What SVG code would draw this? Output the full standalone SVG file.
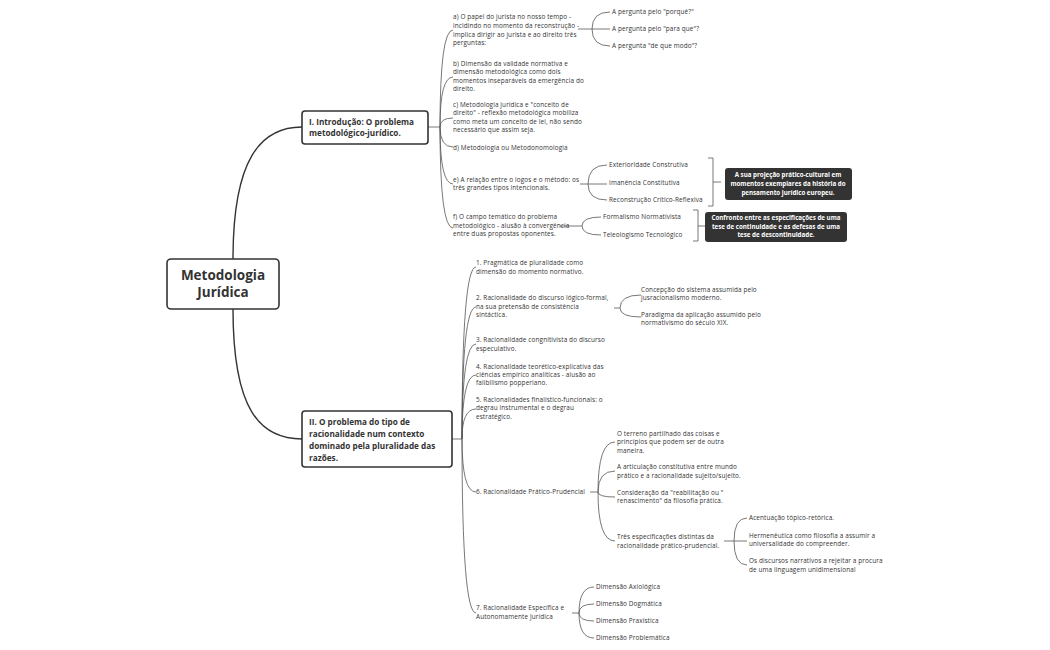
<svg xmlns="http://www.w3.org/2000/svg" width="1050" height="650" viewBox="0 0 1050 650">
<style>
text{font-family:"Open Sans","DejaVu Sans",sans-serif;fill:#333}
.t{font-size:6.4px;letter-spacing:0.12px}
.b{font-weight:bold}
.box{fill:#fff;stroke:#333;stroke-width:1.6}
.dk{fill:#333;stroke:none}
.w{fill:#fff;font-weight:bold;font-size:6.2px;text-anchor:middle}
.c path{fill:none;stroke:#555;stroke-width:0.8}
.c .m{stroke:#333;stroke-width:1.4}
</style>
<rect width="1050" height="650" fill="#fff"/>
<g class="c">
<path class="m" d="M233,259 C233,160 260,127 302,127"/>
<path class="m" d="M233,309 C233,410 260,439 302,439"/>
<path d="M428,127 H440"/>
<path d="M440,127 Q440,30 453,30 M440,127 Q440,77 453,77 M440,127 Q440,118 453,118 M440,127 Q440,147 453,147 M440,127 Q440,184 453,184 M440,127 Q440,228 453,228"/>
<path d="M578,29 H592 M592,29 Q592,12 610,12 M592,29 H610 M592,29 Q592,46 610,46"/>
<path d="M580,184 H588 M588,184 Q588,165 607,165 M588,184 H607 M588,184 Q588,200 607,200"/>
<path d="M708,158 H713 V206 H708 M713,182 H721"/>
<path d="M560,226 H582 M582,226 Q582,217 601,217 M582,226 Q582,235 601,235"/>
<path d="M693,210 H698 V241 H693 M698,226 H705"/>
<path d="M452,439 H462"/>
<path d="M462,439 Q462,267 476,267 M462,439 Q462,307 476,307 M462,439 Q462,344 476,344 M462,439 Q462,375 476,375 M462,439 Q462,409 476,409 M462,439 Q462,492 476,492 M462,439 Q462,613 476,613"/>
<path d="M614,308 H620 M620,308 Q620,295 641,295 M620,308 Q620,317 641,317"/>
<path d="M590,492 H598 M598,492 Q598,442 615,442 M598,492 Q598,471 615,471 M598,492 Q598,497 615,497 M598,492 Q598,541 615,541"/>
<path d="M724,541 H734 M734,541 Q734,518 747,518 M734,541 H747 M734,541 Q734,565 747,565"/>
<path d="M572,613 H579 M579,613 Q579,587 594,587 M579,613 Q579,604 594,604 M579,613 Q579,621 594,621 M579,613 Q579,638 594,638"/>
</g>
<g id="root"><rect class="box" x="167" y="259" width="112" height="50" rx="4"/>
<text class="b" font-size="13.5" text-anchor="middle" x="223" y="280">Metodologia</text>
<text class="b" font-size="13.5" text-anchor="middle" x="223" y="297">Jurídica</text></g>
<g id="n1"><rect class="box" x="302" y="111" width="126" height="33" rx="3"/>
<text class="b" font-size="8.2" x="309" y="125">I. Introdução: O problema</text>
<text class="b" font-size="8.2" x="309" y="136">metodológico-jurídico.</text></g>
<g id="n2"><rect class="box" x="302" y="411" width="150" height="56" rx="3"/>
<text class="b" font-size="8.2" x="309" y="425">II. O problema do tipo de</text>
<text class="b" font-size="8.2" x="309" y="437">racionalidade num contexto</text>
<text class="b" font-size="8.2" x="309" y="449">dominado pela pluralidade das</text>
<text class="b" font-size="8.2" x="309" y="461">razões.</text></g>
<g>
<g id="a"><text class="t" x="453" y="19">a) O papel do jurista no nosso tempo -</text><text class="t" x="453" y="28">incidindo no momento da reconstrução -</text><text class="t" x="453" y="37">implica dirigir ao jurista e ao direito três</text><text class="t" x="453" y="45">perguntas:</text></g>
<g id="a1"><text class="t" x="612" y="14">A pergunta pelo "porquê?"</text></g>
<g id="a2"><text class="t" x="612" y="31">A pergunta pelo "para que"?</text></g>
<g id="a3"><text class="t" x="612" y="48">A pergunta "de que modo"?</text></g>
<g id="b"><text class="t" x="453" y="66">b) Dimensão da validade normativa e</text><text class="t" x="453" y="74">dimensão metodológica como dois</text><text class="t" x="453" y="83">momentos inseparáveis da emergência do</text><text class="t" x="453" y="91">direito.</text></g>
<g id="c"><text class="t" x="453" y="107">c) Metodologia jurídica e "conceito de</text><text class="t" x="453" y="115">direito" - reflexão metodológica mobiliza</text><text class="t" x="453" y="124">como meta um conceito de lei, não sendo</text><text class="t" x="453" y="132">necessário que assim seja.</text></g>
<g id="d"><text class="t" x="453" y="150">d) Metodologia ou Metodonomologia</text></g>
<g id="e"><text class="t" x="453" y="182">e) A relação entre o logos e o método: os</text><text class="t" x="453" y="190">três grandes tipos intencionais.</text></g>
<g id="e1"><text class="t" x="609" y="167">Exterioridade Construtiva</text></g>
<g id="e2"><text class="t" x="609" y="185">Imanência Constitutiva</text></g>
<g id="e3"><text class="t" x="609" y="202">Reconstrução Crítico-Reflexiva</text></g>
<g id="eb"><rect class="dk" x="725" y="168" width="127" height="32" rx="3"/><text class="w" x="788" y="177">A sua projeção prático-cultural em</text><text class="w" x="788" y="186">momentos exemplares da história do</text><text class="w" x="788" y="195">pensamento jurídico europeu.</text></g>
<g id="f"><text class="t" x="453" y="219">f) O campo temático do problema</text><text class="t" x="453" y="228">metodológico - alusão à  convergência</text><text class="t" x="453" y="236">entre duas propostas oponentes.</text></g>
<g id="f1"><text class="t" x="603" y="219">Formalismo Normativista</text></g>
<g id="f2"><text class="t" x="603" y="237">Teleologismo Tecnológico</text></g>
<g id="fb"><rect class="dk" x="705" y="212" width="142" height="30" rx="3"/><text class="w" x="776" y="220">Confronto entre as especificações de uma</text><text class="w" x="776" y="229">tese de continuidade e as defesas de uma</text><text class="w" x="776" y="237">tese de descontinuidade.</text></g>
<g id="p1"><text class="t" x="476" y="265">1. Pragmática de pluralidade como</text><text class="t" x="476" y="274">dimensão do momento normativo.</text></g>
<g id="p2"><text class="t" x="476" y="300">2. Racionalidade do discurso lógico-formal,</text><text class="t" x="476" y="309">na sua pretensão de consistência</text><text class="t" x="476" y="317">sintáctica.</text></g>
<g id="p21"><text class="t" x="641" y="292">Concepção do sistema assumida pelo</text><text class="t" x="641" y="300">jusracionalismo moderno.</text></g>
<g id="p22"><text class="t" x="641" y="317">Paradigma da aplicação assumido pelo</text><text class="t" x="641" y="325">normativismo do século XIX.</text></g>
<g id="p3"><text class="t" x="476" y="342">3. Racionalidade congnitivista do discurso</text><text class="t" x="476" y="351">especulativo.</text></g>
<g id="p4"><text class="t" x="476" y="369">4. Racionalidade teorético-explicativa das</text><text class="t" x="476" y="377">ciências empírico analíticas - alusão ao</text><text class="t" x="476" y="385">falibilismo popperiano.</text></g>
<g id="p5"><text class="t" x="476" y="402">5. Racionalidades finalístico-funcionais: o</text><text class="t" x="476" y="410">degrau instrumental e o degrau</text><text class="t" x="476" y="419">estratégico.</text></g>
<g id="p6"><text class="t" x="476" y="494">6. Racionalidade Prático-Prudencial</text></g>
<g id="p61"><text class="t" x="617" y="436">O terreno partilhado das coisas e</text><text class="t" x="617" y="444">princípios que podem ser de outra</text><text class="t" x="617" y="453">maneira.</text></g>
<g id="p62"><text class="t" x="617" y="469">A articulação constitutiva entre mundo</text><text class="t" x="617" y="478">prático e a racionalidade sujeito/sujeito.</text></g>
<g id="p63"><text class="t" x="617" y="495">Consideração da "reabilitação ou "</text><text class="t" x="617" y="503">renascimento" da filosofia prática.</text></g>
<g id="p64"><text class="t" x="617" y="539">Três especificações distintas da</text><text class="t" x="617" y="548">racionalidade prático-prudencial.</text></g>
<g id="p641"><text class="t" x="749" y="520">Acentuação tópico-retórica.</text></g>
<g id="p642"><text class="t" x="749" y="538">Hermenêutica como filosofia a assumir a</text><text class="t" x="749" y="546">universalidade do compreender.</text></g>
<g id="p643"><text class="t" x="749" y="563">Os discursos narrativos a rejeitar a procura</text><text class="t" x="749" y="572">de uma linguagem unidimensional</text></g>
<g id="p7"><text class="t" x="476" y="610">7. Racionalidade Específica e</text><text class="t" x="476" y="619">Autonomamente Jurídica</text></g>
<g id="p71"><text class="t" x="596" y="589">Dimensão Axiológica</text></g>
<g id="p72"><text class="t" x="596" y="606">Dimensão Dogmática</text></g>
<g id="p73"><text class="t" x="596" y="623">Dimensão Praxística</text></g>
<g id="p74"><text class="t" x="596" y="640">Dimensão Problemática</text></g>
</g>
</svg>
